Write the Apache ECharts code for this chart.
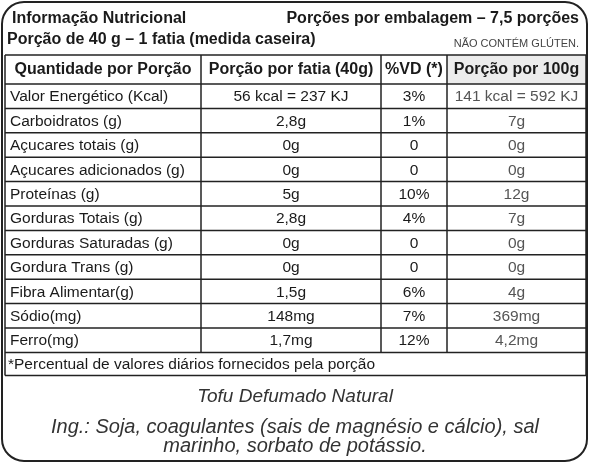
<!DOCTYPE html>
<html><head><meta charset="utf-8">
<script src="https://cdn.jsdelivr.net/npm/echarts@6/dist/echarts.min.js"></script>
<style>html,body{margin:0;padding:0;background:#fff}#c{width:590px;height:464px}</style>
</head><body><div id="c"></div>
<script>
var headers = ['Quantidade por Porção', 'Porção por fatia (40g)', '%VD (*)', 'Porção por 100g'];
var nutrients = ['Valor Energético (Kcal)', 'Carboidratos (g)', 'Açucares totais (g)', 'Açucares adicionados (g)', 'Proteínas (g)', 'Gorduras Totais (g)', 'Gorduras Saturadas (g)', 'Gordura Trans (g)', 'Fibra Alimentar(g)', 'Sódio(mg)', 'Ferro(mg)'];
var perPortion = ['56 kcal = 237 KJ', '2,8g', '0g', '0g', '5g', '2,8g', '0g', '0g', '1,5g', '148mg', '1,7mg'];
var dailyValue = ['3%', '1%', '0', '0', '10%', '4%', '0', '0', '6%', '7%', '12%'];
var per100g = ['141 kcal = 592 KJ', '7g', '0g', '0g', '12g', '7g', '0g', '0g', '4g', '369mg', '4,2mg'];

var chart = echarts.init(document.getElementById('c'));
var fam = 'Liberation Sans';
var colX = [5, 201, 381, 447, 586];
var top0 = 55, headH = 29, rowH = 24.4;
var els = [];
function line(x1, y1, x2, y2, w) {
    els.push({type: 'line', shape: {x1: x1, y1: y1, x2: x2, y2: y2}, style: {stroke: '#222', lineWidth: w || 1.5}});
}
function txt(x, y, s, opt) {
    els.push({type: 'text', x: x, y: y, style: Object.assign({text: s, fontFamily: fam, fontSize: 15.5, fill: '#1a1a1a', verticalAlign: 'middle'}, opt || {})});
}
// outer frame
els.push({type: 'rect', shape: {x: 2, y: 2, width: 585, height: 459, r: 22}, style: {fill: 'none', stroke: '#222', lineWidth: 2}});
txt(12, 19, 'Informação Nutricional', {fontWeight: 'bold', fontSize: 16});
txt(579, 19, 'Porções por embalagem – 7,5 porções', {fontWeight: 'bold', fontSize: 16, align: 'right'});
txt(7, 40, 'Porção de 40 g – 1 fatia (medida caseira)', {fontWeight: 'bold', fontSize: 16});
txt(579, 44, 'NÃO CONTÉM GLÚTEN.', {fontSize: 11, align: 'right', fill: '#444'});

var rows = nutrients.length;
var bottomRows = top0 + headH + rows * rowH;
var footBottom = bottomRows + 23;
// header
els.push({type: 'rect', shape: {x: colX[3], y: top0, width: colX[4] - colX[3], height: headH}, style: {fill: '#ececec'}});
line(colX[0], top0, colX[4], top0);
line(colX[0], top0 + headH, colX[4], top0 + headH);
for (var c = 0; c < 4; c++) {
    txt((colX[c] + colX[c + 1]) / 2, top0 + headH / 2, headers[c], {fontWeight: 'bold', fontSize: 16, align: 'center'});
}
for (var i = 0; i < rows; i++) {
    var y = top0 + headH + i * rowH;
    var cy = y + rowH / 2 + 1;
    txt(colX[0] + 5, cy, nutrients[i]);
    txt((colX[1] + colX[2]) / 2, cy, perPortion[i], {align: 'center'});
    txt((colX[2] + colX[3]) / 2, cy, dailyValue[i], {align: 'center'});
    txt((colX[3] + colX[4]) / 2, cy, per100g[i], {align: 'center', fill: '#555'});
    line(colX[0], y + rowH, colX[4], y + rowH);
}
for (var k = 1; k < 4; k++) line(colX[k], top0, colX[k], bottomRows);
line(colX[0], top0, colX[0], footBottom);
line(colX[4], top0, colX[4], footBottom);
txt(colX[0] + 3, (bottomRows + footBottom) / 2 + 1, '*Percentual de valores diários fornecidos pela porção');
line(colX[0], footBottom, colX[4], footBottom);

txt(295, 397, 'Tofu Defumado Natural', {fontStyle: 'italic', fontSize: 19, align: 'center', fill: '#333'});
txt(295, 427, 'Ing.: Soja, coagulantes (sais de magnésio e cálcio), sal', {fontStyle: 'italic', fontSize: 20, align: 'center', fill: '#333'});
txt(295, 446, 'marinho, sorbato de potássio.', {fontStyle: 'italic', fontSize: 20, align: 'center', fill: '#333'});

chart.setOption({backgroundColor: '#fff', graphic: els});
</script></body></html>
